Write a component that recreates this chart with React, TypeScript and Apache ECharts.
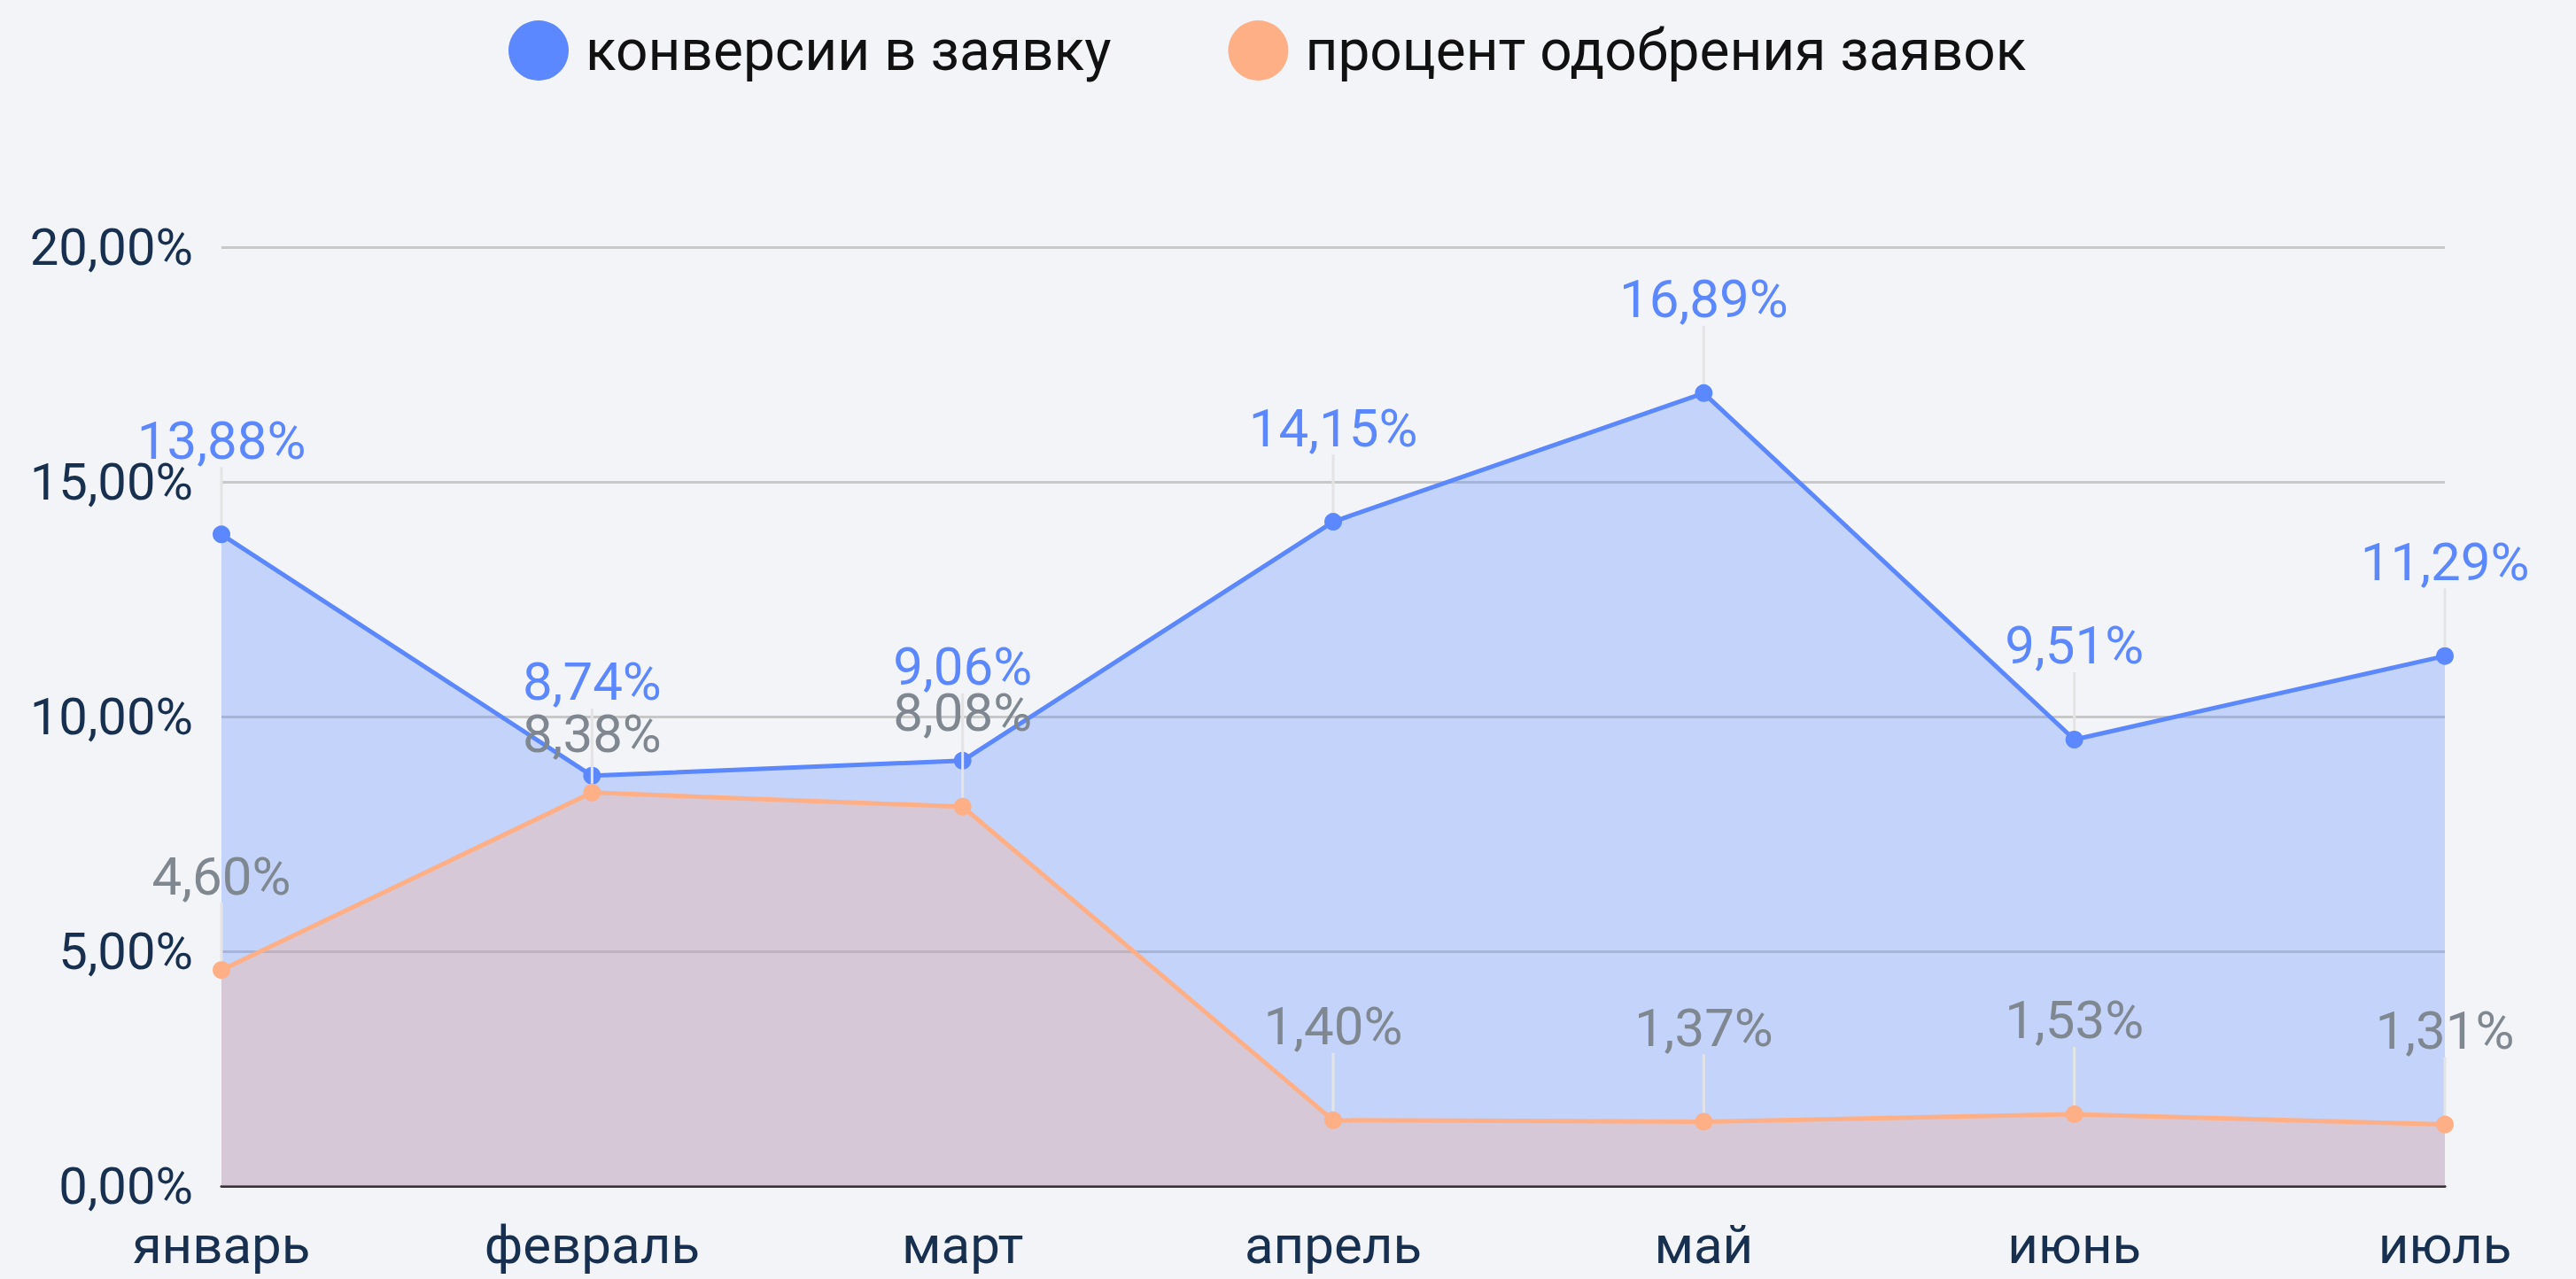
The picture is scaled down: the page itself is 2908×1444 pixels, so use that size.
import React, { useEffect, useRef } from "react";
import * as echarts from "echarts";

const months = ["январь", "февраль", "март", "апрель", "май", "июнь", "июль"];
const conversion = [13.88, 8.74, 9.06, 14.15, 16.89, 9.51, 11.29];
const approval = [4.6, 8.38, 8.08, 1.4, 1.37, 1.53, 1.31];
const seriesNames = ["конверсии в заявку", "процент одобрения заявок"];

const fmt = (v: number) => v.toFixed(2).replace(".", ",") + "%";

export default function App() {
  const ref = useRef<HTMLDivElement>(null);
  useEffect(() => {
    document.body.style.margin = "0";
    const chart = echarts.init(ref.current!, null, { renderer: "svg" });
    const font = "Roboto";
    chart.setOption({
      animation: false,
      backgroundColor: "#f3f4f8",
      textStyle: { fontFamily: font },
      legend: {
        top: 18,
        left: 569,
        itemWidth: 96,
        itemHeight: 68,
        itemGap: 132,
        icon: "circle",
        textStyle: { fontSize: 64, color: "#111111", fontFamily: font },
        data: seriesNames,
      },
      grid: { left: 250, right: 148, top: 279, bottom: 105, containLabel: false },
      xAxis: {
        type: "category",
        data: months,
        boundaryGap: false,
        axisLine: { show: true, lineStyle: { color: "#333333", width: 3 } },
        axisTick: { show: false },
        axisLabel: { fontSize: 60, color: "#17304f", margin: 36, fontFamily: font },
        splitLine: { show: false },
      },
      yAxis: {
        type: "value",
        min: 0,
        max: 20,
        interval: 5,
        axisLine: { show: false },
        axisTick: { show: false },
        axisLabel: {
          fontSize: 58,
          color: "#17304f",
          margin: 32,
          fontFamily: font,
          formatter: (v: number) => fmt(v),
        },
        splitLine: { lineStyle: { color: "#c8c8c8", width: 3 } },
      },
      series: [
        {
          name: seriesNames[0],
          type: "line",
          data: conversion,
          color: "#5b87ff",
          symbol: "circle",
          symbolSize: 20,
          lineStyle: { width: 5, color: "#5b87ff" },
          itemStyle: { color: "#5b87ff" },
          areaStyle: { color: "#5b87ff", opacity: 0.3 },
          label: {
            show: true,
            position: "top",
            distance: 5,
            fontSize: 60,
            lineHeight: 50,
            color: "#5b87ff",
            fontFamily: font,
            formatter: (p: any) => fmt(p.value),
          },
          labelLine: { show: true, lineStyle: { color: "#e4e4e4", width: 3 } },
          labelLayout: () => ({ dy: -66 }),
          z: 2,
        },
        {
          name: seriesNames[1],
          type: "line",
          data: approval,
          color: "#ffaf85",
          symbol: "circle",
          symbolSize: 20,
          lineStyle: { width: 5, color: "#ffaf85" },
          itemStyle: { color: "#ffaf85" },
          areaStyle: { color: "#ffaf85", opacity: 0.3 },
          label: {
            show: true,
            position: "top",
            distance: 5,
            fontSize: 60,
            lineHeight: 50,
            color: "#7f8791",
            fontFamily: font,
            formatter: (p: any) => fmt(p.value),
          },
          labelLine: { show: true, lineStyle: { color: "#e4e4e4", width: 3 } },
          labelLayout: (p: any) => ({ dy: p.dataIndex === 1 ? -26 : -66 }),
          z: 3,
        },
      ],
    });
    return () => chart.dispose();
  }, []);
  return <div ref={ref} style={{ width: 2908, height: 1444 }} />;
}
